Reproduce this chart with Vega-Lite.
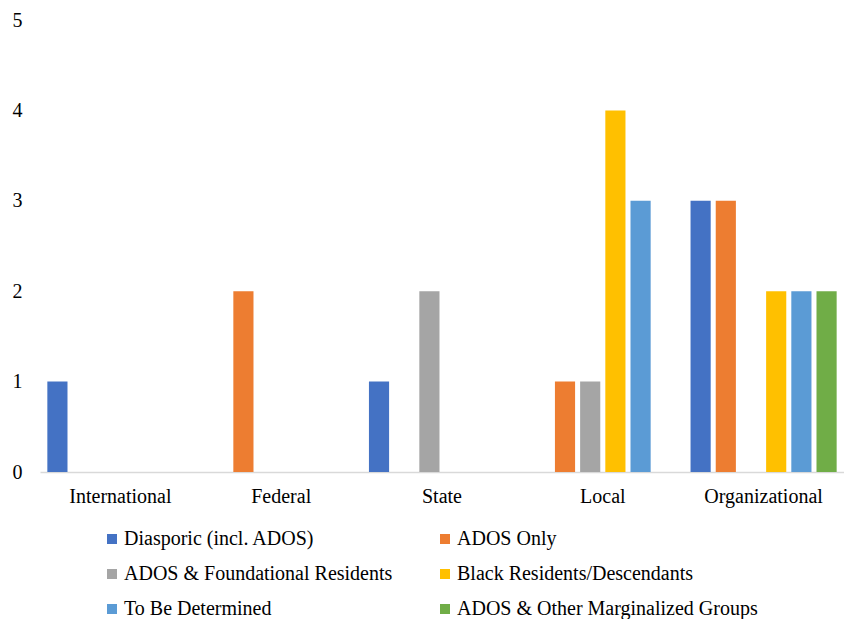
{
  "$schema": "https://vega.github.io/schema/vega-lite/v6.json",
  "width": 804,
  "height": 452,
  "autosize": {"type": "none"},
  "padding": {"left": 40, "top": 20, "right": 0, "bottom": 147},
  "background": "white",
  "data": {
    "values": [
      {"level": "International", "group": "Diasporic (incl. ADOS)", "count": 1},
      {"level": "Federal", "group": "ADOS Only", "count": 2},
      {"level": "State", "group": "Diasporic (incl. ADOS)", "count": 1},
      {"level": "State", "group": "ADOS & Foundational Residents", "count": 2},
      {"level": "Local", "group": "ADOS Only", "count": 1},
      {"level": "Local", "group": "ADOS & Foundational Residents", "count": 1},
      {"level": "Local", "group": "Black Residents/Descendants", "count": 4},
      {"level": "Local", "group": "To Be Determined", "count": 3},
      {"level": "Organizational", "group": "Diasporic (incl. ADOS)", "count": 3},
      {"level": "Organizational", "group": "ADOS Only", "count": 3},
      {"level": "Organizational", "group": "Black Residents/Descendants", "count": 2},
      {"level": "Organizational", "group": "To Be Determined", "count": 2},
      {"level": "Organizational", "group": "ADOS & Other Marginalized Groups", "count": 2}
    ]
  },
  "mark": {"type": "bar"},
  "encoding": {
    "x": {
      "field": "level",
      "type": "nominal",
      "sort": ["International", "Federal", "State", "Local", "Organizational"],
      "scale": {"paddingInner": 0.06, "paddingOuter": 0.03},
      "axis": {
        "title": null,
        "labelAngle": 0,
        "ticks": false,
        "domainColor": "#D9D9D9",
        "domainWidth": 1.5,
        "labelFont": "Liberation Serif",
        "labelFontSize": 20,
        "labelColor": "black",
        "labelPadding": 14
      }
    },
    "xOffset": {
      "field": "group",
      "type": "nominal",
      "sort": ["Diasporic (incl. ADOS)", "ADOS Only", "ADOS & Foundational Residents", "Black Residents/Descendants", "To Be Determined", "ADOS & Other Marginalized Groups"],
      "scale": {"paddingInner": 0.2, "paddingOuter": 0.1}
    },
    "y": {
      "field": "count",
      "type": "quantitative",
      "scale": {"domain": [0, 5], "nice": false},
      "axis": {
        "title": null,
        "values": [0, 1, 2, 3, 4, 5],
        "grid": false,
        "domain": false,
        "ticks": false,
        "labelFont": "Liberation Serif",
        "labelFontSize": 20,
        "labelColor": "black",
        "labelPadding": 18
      }
    },
    "color": {
      "field": "group",
      "type": "nominal",
      "sort": ["Diasporic (incl. ADOS)", "ADOS Only", "ADOS & Foundational Residents", "Black Residents/Descendants", "To Be Determined", "ADOS & Other Marginalized Groups"],
      "scale": {
        "domain": ["Diasporic (incl. ADOS)", "ADOS Only", "ADOS & Foundational Residents", "Black Residents/Descendants", "To Be Determined", "ADOS & Other Marginalized Groups"],
        "range": ["#4472C4", "#ED7D31", "#A5A5A5", "#FFC000", "#5B9BD5", "#70AD47"]
      },
      "legend": {
        "title": null,
        "orient": "none",
        "legendX": 62,
        "legendY": 509,
        "direction": "horizontal",
        "columns": 2,
        "columnPadding": 42,
        "rowPadding": 15,
        "symbolType": "square",
        "symbolSize": 100,
        "symbolStrokeWidth": 0,
        "labelFont": "Liberation Serif",
        "labelFontSize": 20,
        "labelColor": "black",
        "labelOffset": 2,
        "labelLimit": 400
      }
    }
  },
  "config": {"view": {"stroke": null}}
}
